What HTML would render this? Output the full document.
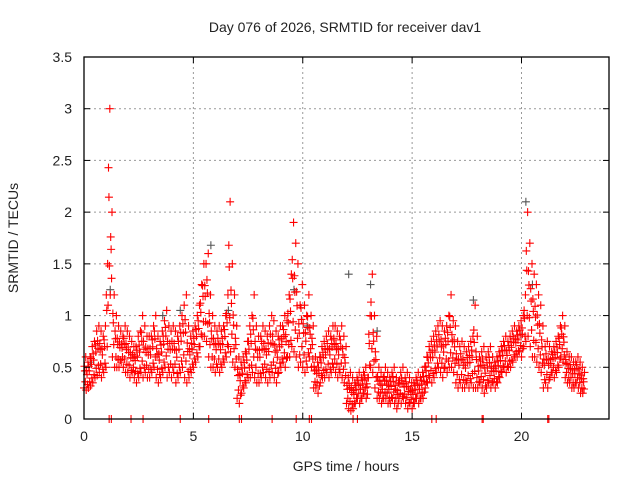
<!DOCTYPE html>
<html><head><meta charset="utf-8"><style>
body{margin:0;background:#fff;}
svg{display:block;font-family:"Liberation Sans",sans-serif;}
</style></head><body>
<svg id="chart" width="640" height="480" viewBox="0 0 640 480">
<rect width="640" height="480" fill="#fff"/>
<g id="grid"></g>
<g id="marks"></g>
<rect x="84" y="57" width="525" height="362" fill="none" stroke="#000" stroke-width="1.3"/>
<g id="ticks"></g>
<text x="345" y="32" text-anchor="middle" font-size="14" fill="#222">Day 076 of 2026, SRMTID for receiver dav1</text>
<text x="346" y="471" text-anchor="middle" font-size="14" fill="#222">GPS time / hours</text>
<text x="18" y="238" text-anchor="middle" font-size="14" fill="#222" transform="rotate(-90 18 238)">SRMTID / TECUs</text>
</svg>
<script>
const xTicks=[0,5,10,15,20];
const yTicks=[0,0.5,1,1.5,2,2.5,3,3.5];
const yTickLabels=["0","0.5","1","1.5","2","2.5","3","3.5"];
const lo=[.3,.28,.3,.32,.35,.4,.42,.45,.4,.45,
.5,1.1,1.2,.6,.5,.5,.5,.55,.5,.45,
.45,.4,.45,.4,.35,.4,.45,.4,.45,.4,
.4,.45,.5,.4,.35,.4,.45,.5,.4,.45,
.4,.45,.35,.4,.45,.5,.4,.35,.4,.45,
.5,.55,.6,.7,.8,.8,.75,.6,.5,.5,
.45,.5,.45,.5,.55,.6,.7,.65,.55,.5,
.2,.15,.25,.3,.35,.4,.4,.45,.4,.35,
.35,.4,.45,.4,.35,.4,.45,.4,.35,.45,
.5,.55,.5,.6,.6,.7,.65,.6,.5,.55,
.5,.45,.5,.6,.5,.3,.3,.25,.35,.4,
.4,.45,.4,.45,.5,.45,.4,.45,.4,.35,
.15,.1,.08,.1,.15,.2,.15,.2,.25,.2,
.4,.5,.45,.3,.2,.2,.15,.2,.2,.15,
.15,.2,.15,.1,.2,.15,.2,.15,.1,.15,
.1,.15,.2,.15,.2,.2,.3,.35,.4,.35,
.4,.45,.5,.45,.4,.5,.45,.5,.5,.45,
.35,.3,.35,.3,.3,.35,.3,.35,.3,.3,
.3,.35,.3,.25,.3,.35,.3,.35,.3,.35,
.4,.45,.5,.45,.5,.5,.55,.6,.6,.65,
.6,.7,.75,.8,.7,.6,.6,.55,.5,.45,
.3,.35,.3,.4,.45,.4,.45,.5,.6,.55,
.4,.35,.35,.3,.3,.35,.3,.25,.25];
const hi=[.6,.55,.6,.7,.75,.85,.9,.85,.8,.9,
1.5,3.0,2.0,1.2,1.0,.9,.85,.8,.9,.85,
.8,.75,.7,.7,.8,.85,1.0,.9,.8,.8,
.8,.9,1.0,.8,.75,.85,.95,1.05,.9,.85,
.9,.85,.8,.9,1.0,1.1,1.2,.9,.8,.85,
.9,1.0,1.1,1.3,1.5,1.5,1.6,1.2,1.0,.9,
.85,.9,.85,.9,1.0,1.2,2.1,1.5,1.2,.9,
.6,.55,.6,.65,.75,.9,1.0,1.2,.9,.8,
.8,.9,.85,.8,.9,1.0,.95,.85,.8,.9,
.9,1.0,.95,1.2,1.4,1.9,1.7,1.5,1.1,1.3,
1.1,1.0,1.2,1.0,.9,.6,.55,.6,.7,.75,
.8,.85,.8,.9,.9,.85,.8,.9,.8,.7,
.4,.45,.4,.35,.4,.45,.4,.45,.5,.4,
1.0,1.4,1.0,.8,.5,.45,.4,.5,.45,.4,
.45,.5,.4,.35,.45,.5,.4,.45,.4,.35,
.35,.4,.45,.4,.45,.5,.6,.7,.75,.8,
.85,.9,.95,.9,.85,.9,1.0,1.2,.95,.9,
.75,.7,.75,.7,.65,.7,.75,.8,1.1,.8,
.6,.65,.7,.6,.65,.7,.6,.55,.6,.65,
.7,.75,.8,.75,.8,.85,.9,.85,.9,.95,
1.0,1.2,2.0,1.7,1.5,1.4,1.3,1.2,1.1,.9,
.7,.75,.7,.65,.7,.75,.8,.9,1.0,.9,
.65,.6,.6,.55,.55,.6,.55,.5,.45];
const grayT=[0.3,1.2,3.6,4.4,5.8,6.6,9.6,10.2,12.1,13.1,13.4,17.8,20.2,20.5];
const grayV=[0.55,1.25,1.0,1.05,1.68,1.05,1.25,0.9,1.4,1.3,0.85,1.15,2.1,1.3];
const zeroTimes=[1.15,1.25,2.15,2.7,4.4,5.7,7.1,7.2,8.6,9.7,10.3,10.4,12.3,12.5,15.9,16.1,18.2,18.25,21.2,21.25];
const step=0.1;
const fracs=[0,0.3,0.55,0.8,1];

const X0=84,X1=609,Y0=419,Y1=57,XMAX=24,YMAX=3.5;
const xs=t=>X0+(X1-X0)*t/XMAX;
const ys=v=>Y0-(Y0-Y1)*v/YMAX;
const NS="http://www.w3.org/2000/svg";
const grid=document.getElementById('grid'),ticks=document.getElementById('ticks'),marks=document.getElementById('marks');
function line(p,x1,y1,x2,y2,st,dash){const l=document.createElementNS(NS,'line');l.setAttribute('x1',x1);l.setAttribute('y1',y1);l.setAttribute('x2',x2);l.setAttribute('y2',y2);l.setAttribute('stroke',st);if(dash)l.setAttribute('stroke-dasharray',dash);p.appendChild(l);return l;}
function txt(s,x,y,anchor){const t=document.createElementNS(NS,'text');t.setAttribute('x',x);t.setAttribute('y',y);t.setAttribute('text-anchor',anchor);t.setAttribute('font-size','14');t.setAttribute('fill','#222');t.textContent=s;ticks.appendChild(t);return t;}
xTicks.forEach(v=>{const x=xs(v);
 if(v>0){const g=line(grid,x,Y1,x,Y0,'#999','2,3');
 
 }
 const a=line(ticks,x,Y0,x,Y0-6,'#000');
 
 
 const b=line(ticks,x,Y1,x,Y1+6,'#000');
 
 
 const t=txt(String(v),x,Y0+22,'middle');
 
 });
yTicks.forEach((v,i)=>{const y=ys(v);
 if(v>0&&v<YMAX){const g=line(grid,X0,y,X1,y,'#999','2,3');
 
 }
 const a=line(ticks,X0,y,X0+6,y,'#000');
 
 
 const b=line(ticks,X1,y,X1-6,y,'#000');
 
 
 const t=txt(yTickLabels[i],X0-12,y+5,'end');
 
 });
function plus(t,v,col){const x=xs(t),y=ys(v);const p=document.createElementNS(NS,'path');
 p.setAttribute('d','M'+(x-4)+' '+y+'h8M'+x+' '+(y-4)+'v8');
 p.setAttribute('stroke',col);p.setAttribute('stroke-width','1.1');p.setAttribute('fill','none');
 marks.appendChild(p);return p;}
grayT.forEach((t,i)=>{const p=plus(t,grayV[i],'#555');
 
 });
lo.forEach((l,i)=>{const h=hi[i];fracs.forEach((f,k)=>{
 const t=i*step+k*step/fracs.length;
 const v=(k%2===0)?l+(h-l)*f:h-(h-l)*f;
 const p=plus(t,v,'#f00');
 
 });});
zeroTimes.forEach(t=>{const p=plus(t,0,'#f00');
 
 });
</script>
</body></html>
